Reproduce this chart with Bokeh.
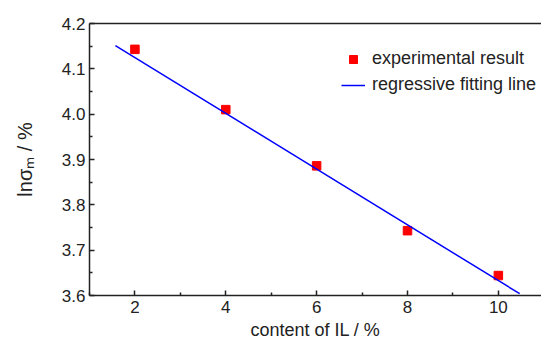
from bokeh.plotting import figure
from bokeh.models import Range1d, LinearAxis, Legend, LegendItem, FixedTicker, CustomJSTickFormatter, Title
from bokeh.embed import file_html
from bokeh.resources import INLINE

# data
il_content = [2, 4, 6, 8, 10]
ln_sigma = [4.143, 4.010, 3.886, 3.743, 3.644]
fit_x = [1.57, 10.47]
fit_y = [4.151, 3.604]
x_ticks = [2, 4, 6, 8, 10]
x_minor = [1, 3, 5, 7, 9]
y_ticks = [3.6, 3.7, 3.8, 3.9, 4.0, 4.1, 4.2]
y_minor = [3.65, 3.75, 3.85, 3.95, 4.05, 4.15]
x_title = "content of IL / %"
y_title = "lnσₘ / %"

FONT = "Liberation Sans"
INK = "#222222"

p = figure(width=541, height=341, output_backend="svg", toolbar_location=None,
           x_range=Range1d(1.0, 10.95), y_range=Range1d(3.6, 4.2),
           min_border_left=89, min_border_right=0, min_border_top=23, min_border_bottom=46)
p.outline_line_color = None
p.grid.visible = False
p.background_fill_color = "white"
p.border_fill_color = "white"

sq = p.scatter(il_content, ln_sigma, marker="square", size=8.5, color="#ff0000")
ln = p.line(fit_x, fit_y, line_color="#0000ff", line_width=1.5)

for ax in (p.xaxis[0], p.yaxis[0]):
    ax.axis_line_width = 1.5
    ax.axis_line_color = INK
    ax.major_tick_in = 5
    ax.major_tick_out = 0
    ax.minor_tick_in = 3
    ax.minor_tick_out = 0
    ax.major_tick_line_width = 1.5
    ax.minor_tick_line_width = 1.5
    ax.major_tick_line_color = INK
    ax.minor_tick_line_color = INK
    ax.major_label_text_font = FONT
    ax.major_label_text_font_size = "17px"
    ax.major_label_text_color = INK
    ax.major_label_text_line_height = 1.0
    ax.axis_label_text_font = FONT
    ax.axis_label_text_font_style = "normal"
    ax.axis_label_text_color = INK
    ax.axis_label_text_line_height = 1.0

p.xaxis[0].ticker = FixedTicker(ticks=x_ticks, minor_ticks=x_minor)
p.yaxis[0].ticker = FixedTicker(ticks=y_ticks, minor_ticks=y_minor)
p.yaxis[0].formatter = CustomJSTickFormatter(code="return tick.toFixed(1);")
p.yaxis[0].axis_label = y_title
p.yaxis[0].axis_label_text_font_size = "20px"
p.xaxis[0].major_label_standoff = 5
p.yaxis[0].major_label_standoff = 4
p.yaxis[0].axis_label_standoff = 23

# x-axis title as a title panel below the axis
p.add_layout(Title(text=x_title, align="center", standoff=4, offset=0,
                   text_font=FONT, text_font_size="18px", text_font_style="normal",
                   text_color=INK, text_line_height=1.0), "below")

top = LinearAxis(major_tick_in=0, major_tick_out=0, minor_tick_in=0, minor_tick_out=0,
                 major_label_text_font_size="0px", axis_line_width=1.5, axis_line_color=INK)
top.ticker = FixedTicker(ticks=[])
p.add_layout(top, "above")

legend = Legend(items=[LegendItem(label="experimental result", renderers=[sq]),
                       LegendItem(label="regressive fitting line", renderers=[ln])],
                location=(252, 200), border_line_color=None, background_fill_alpha=0,
                label_text_font=FONT, label_text_font_size="18px", label_text_color=INK,
                glyph_width=24, label_standoff=7, margin=0, padding=6, spacing=5)
p.add_layout(legend, "center")

open("out.html", "w").write(file_html(p, INLINE))
